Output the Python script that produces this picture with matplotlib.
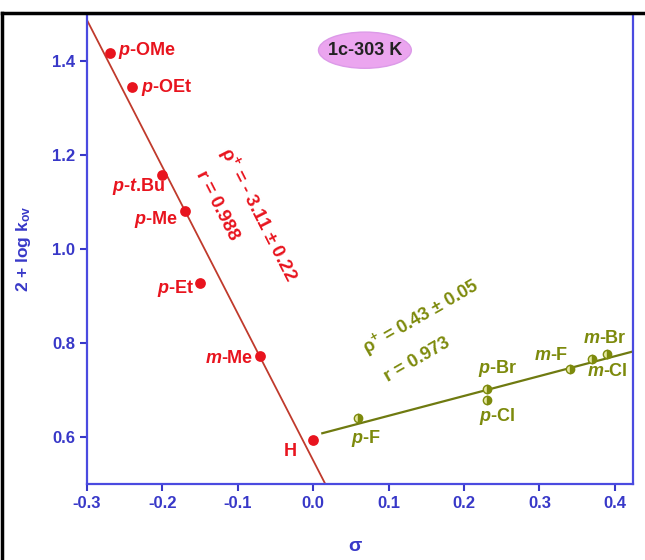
import matplotlib
matplotlib.use("Agg")
import matplotlib.pyplot as plt
from matplotlib.lines import Line2D
from matplotlib.patches import Ellipse

plt.rcParams['font.family'] = ['Liberation Sans', 'DejaVu Sans']
plt.rcParams['mathtext.fontset'] = 'custom'
plt.rcParams['mathtext.rm'] = 'Liberation Sans:bold'
plt.rcParams['mathtext.it'] = 'Liberation Sans:italic:bold'
plt.rcParams['mathtext.bf'] = 'Liberation Sans:bold'

# Electron-donating substituents (red)
red_labels = [r'$\mathit{p}$-OMe', r'$\mathit{p}$-OEt', r'$\mathit{p}$-$\mathit{t}$.Bu',
              r'$\mathit{p}$-Me', r'$\mathit{p}$-Et', r'$\mathit{m}$-Me', 'H']
red_sigma = [-0.27, -0.24, -0.20, -0.17, -0.15, -0.07, 0.00]
red_logk = [1.417, 1.345, 1.157, 1.080, 0.928, 0.773, 0.593]
red_fit_x = [-0.30, 0.016]
red_fit_y = [1.487, 0.50]

# Electron-withdrawing substituents (green)
green_labels = [r'$\mathit{p}$-F', r'$\mathit{p}$-Br', r'$\mathit{p}$-Cl',
                r'$\mathit{m}$-F', r'$\mathit{m}$-Cl', r'$\mathit{m}$-Br']
green_sigma = [0.06, 0.23, 0.23, 0.34, 0.37, 0.39]
green_logk = [0.640, 0.703, 0.678, 0.744, 0.767, 0.777]
green_fit_x = [0.012, 0.424]
green_fit_y = [0.608, 0.782]

x_ticks = [-0.3, -0.2, -0.1, 0.0, 0.1, 0.2, 0.3, 0.4]
y_ticks = [0.6, 0.8, 1.0, 1.2, 1.4]

# label offsets in pixels (dx, dy) and alignment
red_off = [(8, 3, 'left'), (9, -1, 'left'), (3, -11, 'right'), (-7, -8, 'right'),
           (-6, -6, 'right'), (-7, -3, 'right'), (-23, -11, 'center')]
green_off = [(7, -20, 'center'), (11, 20, 'center'), (10, -16, 'center'),
             (-18, 14, 'center'), (15, -13, 'center'), (-2, 15, 'center')]

RED = '#e8141e'
REDLINE = '#c03a2c'
GREEN = '#7d8a0c'
BLUE = '#3838c8'
FS = 13

fig = plt.figure(figsize=(6.45, 5.6), dpi=100)
ax = fig.add_axes([87/645, 1 - 484/560, (633-87)/645, (484-14)/560])

ax.plot(red_fit_x, red_fit_y, color=REDLINE, lw=1.3, zorder=2)
ax.plot(green_fit_x, green_fit_y, color='#6f7a10', lw=1.6, zorder=2)
ax.scatter(red_sigma, red_logk, s=60, color=RED, zorder=3, linewidths=0)
ax.plot(green_sigma, green_logk, ls='none', marker='o', ms=6, mfc=GREEN,
        mec=GREEN, fillstyle='right', mfcalt='#e6e8a0', zorder=3)

for lab, x, y, (dx, dy, ha) in zip(red_labels, red_sigma, red_logk, red_off):
    ax.annotate(lab, (x, y), xytext=(dx, dy), textcoords='offset pixels',
                ha=ha, va='center', color=RED, fontsize=FS, fontweight='bold')
for lab, x, y, (dx, dy, ha) in zip(green_labels, green_sigma, green_logk, green_off):
    ax.annotate(lab, (x, y), xytext=(dx, dy), textcoords='offset pixels',
                ha=ha, va='center', color=GREEN, fontsize=FS, fontweight='bold')

ax.text(-0.073, 1.074, r'$\mathregular{\rho^{+}}$ = - 3.11 ± 0.22', rotation=-63,
        rotation_mode='anchor', ha='center', va='center', color=RED,
        fontsize=FS + 0.5, fontweight='bold')
ax.text(-0.127, 1.093, 'r = 0.988', rotation=-63, rotation_mode='anchor',
        ha='center', va='center', color=RED, fontsize=FS + 0.5, fontweight='bold')
ax.text(0.143, 0.856, r'$\mathregular{\rho^{+}}$ = 0.43 ± 0.05', rotation=30,
        rotation_mode='anchor', ha='center', va='center', color=GREEN,
        fontsize=FS, fontweight='bold')
ax.text(0.138, 0.763, 'r = 0.973', rotation=30, rotation_mode='anchor',
        ha='center', va='center', color=GREEN, fontsize=FS, fontweight='bold')

# "1c-303 K" tag in a pink ellipse
ax.add_patch(Ellipse((0.509, 0.923), 0.170, 0.077, transform=ax.transAxes,
                     fc='#eba5ef', ec='#dc9ae8', lw=1, zorder=4))
ax.text(0.509, 0.923, '1c-303 K', transform=ax.transAxes, ha='center',
        va='center', color='#222222', fontsize=13, fontweight='bold', zorder=5)

ax.set_xlim(-0.3, 0.424)
ax.set_ylim(0.5, 1.5)
ax.set_xticks(x_ticks)
ax.set_xticklabels([f'{t:.1f}' for t in x_ticks])
ax.set_yticks(y_ticks)
ax.set_yticklabels([f'{t:.1f}' for t in y_ticks])
for s in ax.spines.values():
    s.set_color('#4a4ae0')
    s.set_linewidth(1.6)
ax.tick_params(colors=BLUE, labelsize=12, width=1.5, length=5, direction='out')
for lbl in ax.get_xticklabels() + ax.get_yticklabels():
    lbl.set_fontweight('bold')
    lbl.set_color(BLUE)
ax.set_xlabel('σ', color=BLUE, fontsize=14, fontweight='bold')
ax.xaxis.set_label_coords((355 - 87) / 546, -0.115)
ax.set_ylabel(r'2 + log k$_{\mathregular{ov}}$', color=BLUE, fontsize=12.5,
              fontweight='bold')
ax.yaxis.set_label_coords((33 - 87) / 546, 0.5)

# black frame edges of the original figure crop
fig.add_artist(Line2D([2/645, 2/645], [0, 1 - 13/560], color='black', lw=2.5,
                      transform=fig.transFigure))
fig.add_artist(Line2D([2/645, 1], [1 - 13/560, 1 - 13/560], color='black', lw=2.5,
                      transform=fig.transFigure))

fig.savefig('out.png', dpi=100)
